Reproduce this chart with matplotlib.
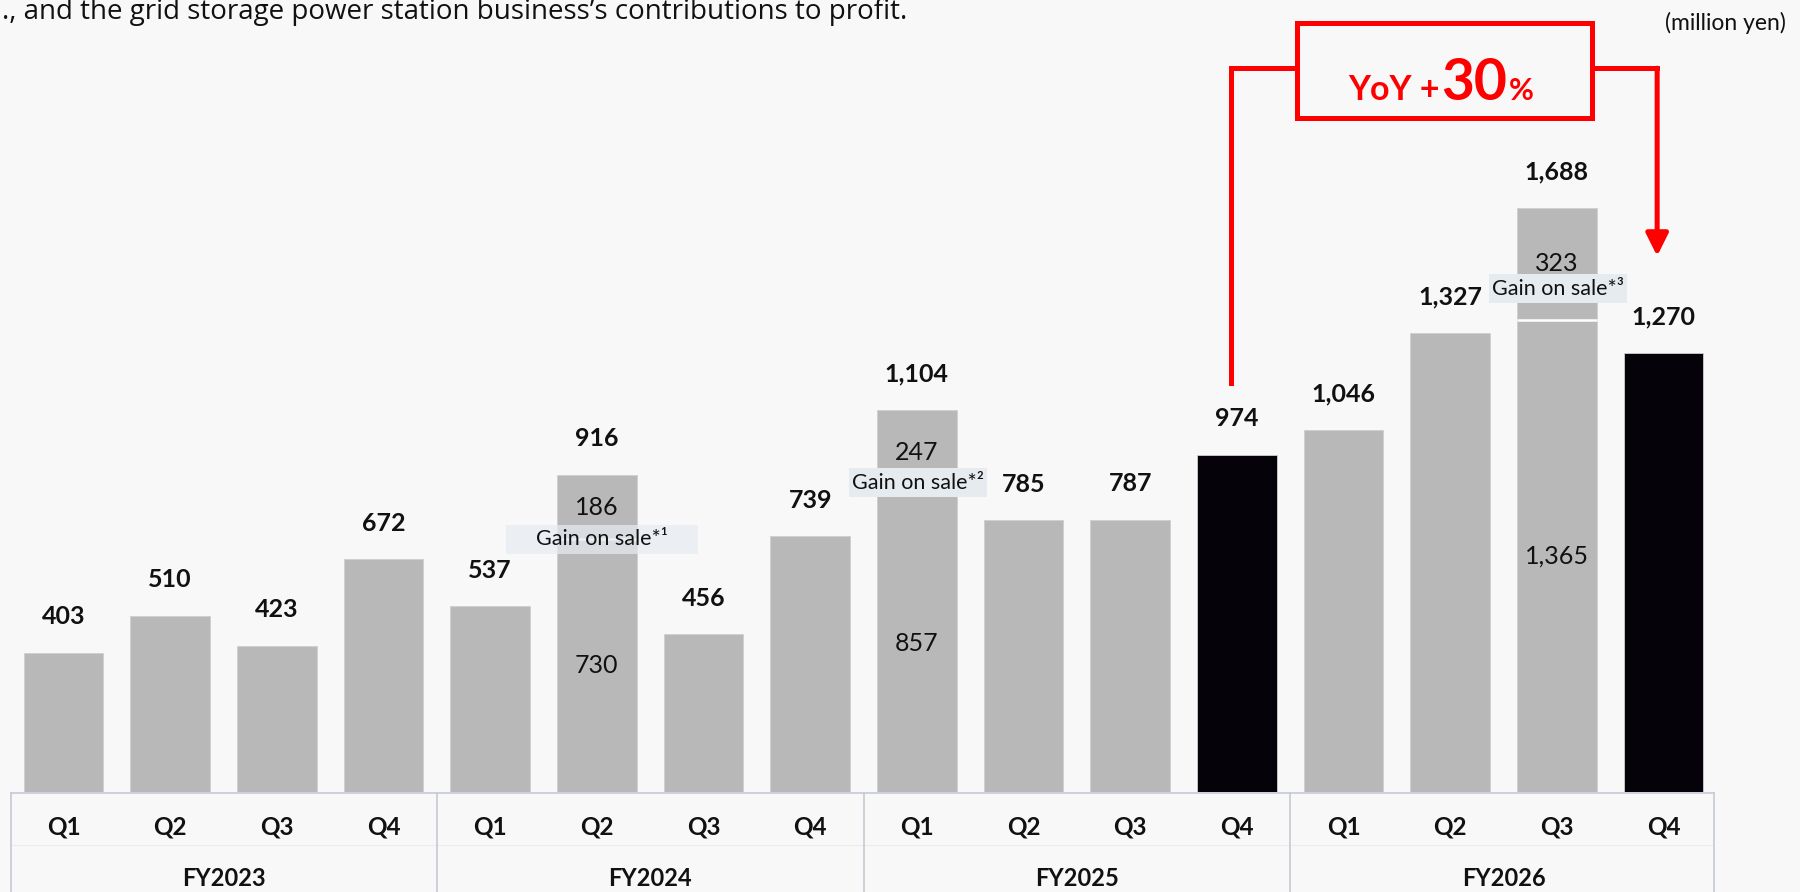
import numpy as np
import matplotlib
matplotlib.use("Agg")
import matplotlib.pyplot as plt
from matplotlib.patches import Rectangle
from matplotlib.transforms import offset_copy

plt.rcParams['font.family'] = ['Lato', 'DejaVu Sans']

# quarterly profit (million yen)
years = ['FY2023', 'FY2024', 'FY2025', 'FY2026']
quarters = ['Q1', 'Q2', 'Q3', 'Q4'] * 4
profit = np.array([403, 510, 423, 672, 537, 916, 456, 739,
                   1104, 785, 787, 974, 1046, 1327, 1688, 1270])
gain_on_sale = np.array([0, 0, 0, 0, 0, 186, 0, 0,
                         247, 0, 0, 0, 0, 0, 323, 0])
gain_notes = {5: '*¹', 8: '*²', 14: '*³'}
highlight = [11, 15]
base = profit - gain_on_sale

BG = '#F8F8F8'
GRAY = '#B8B8B8'
DARK = '#050309'
RED = '#FF0000'

W, H, DPI = 1800, 892, 100
fig = plt.figure(figsize=(W / DPI, H / DPI), dpi=DPI, facecolor=BG)

x = np.arange(len(profit))
xlim = (-0.492, 15.473)
ax_left, ax_w = 11 / W, 1703 / W
ax = fig.add_axes([ax_left, 100 / H, ax_w, 792 / H])
ax.set_facecolor('none')
ax.set_xlim(*xlim)
ax.set_ylim(0, 2289)
ax.axis('off')

bar_w = 0.745
colors = [DARK if i in highlight else GRAY for i in x]
ax.bar(x, profit, width=bar_w, color=colors, edgecolor='#CFCFCF', linewidth=0.6, zorder=2)
# white split line between the base and the gain-on-sale part
has_gain = gain_on_sale > 0
ax.hlines(base[has_gain], x[has_gain] - bar_w / 2, x[has_gain] + bar_w / 2,
          color='white', lw=1.8, zorder=2.5)

# totals above each bar
for i, v in enumerate(profit):
    ax.annotate(f'{v:,}', (i, v), xytext=(0, 26), textcoords='offset points',
                ha='center', va='center', fontsize=18, fontweight='bold',
                color='#111111', zorder=5)

# split values and gain-on-sale tags inside stacked bars
box_style = {5: (1.8, 0, 0.72), 8: (1.3, 37, 1.0), 14: (1.3, 90, 1.0)}
for i in np.where(has_gain)[0]:
    ax.text(i, base[i] / 2, f'{base[i]:,}', ha='center', va='center',
            fontsize=18, color='#111111', zorder=4)
    ax.text(i, base[i] + gain_on_sale[i] / 2, f'{gain_on_sale[i]:,}', ha='center',
            va='center', fontsize=18, color='#111111', zorder=4)
    bw, dy, alpha = box_style[i]
    cx = i + (0.05 if i == 5 else 0.01)
    cy = base[i] + dy
    ax.add_patch(Rectangle((cx - bw / 2, cy - 42), bw, 84, facecolor='#E6EBF0',
                           edgecolor='none', alpha=alpha, zorder=3))
    ax.text(cx, cy, 'Gain on sale' + gain_notes[i], ha='center', va='center',
            fontsize=15.5, color='#111111', zorder=4)

# YoY bracket from FY2025 Q4 to FY2026 Q4
i0, i1 = highlight
xl, xr = i0 - 0.055, i1 - 0.06
y_top = 2092
ax.plot([xl, xl, xr, xr], [profit[i0] + 208, y_top, y_top, y_top], color=RED,
        lw=3.6, solid_joinstyle='miter', solid_capstyle='projecting', zorder=6)
ax.annotate('', xy=(xr, profit[i1] + 279), xytext=(xr, y_top),
            arrowprops=dict(arrowstyle='-|>,head_length=0.9,head_width=0.45',
                            color=RED, lw=3.6, shrinkA=0, shrinkB=0,
                            mutation_scale=15), zorder=6)
bx0, bx1 = xl + 0.62, xr - 0.61
ax.add_patch(Rectangle((bx0, y_top - 144), bx1 - bx0, 274, facecolor=BG,
                       edgecolor=RED, lw=3.6, joinstyle='miter', zorder=7))

yoy = round((profit[i1] / profit[i0] - 1) * 100)
bcx = (bx0 + bx1) / 2 + 0.277
yb = 2000
t30 = ax.text(bcx, yb, f'{yoy}', ha='center', va='baseline', fontsize=41,
              fontweight='bold', color=RED, zorder=8)
renderer = fig.canvas.get_renderer()
w30 = t30.get_window_extent(renderer).width * 72 / DPI
ax.text(bcx, yb, 'YoY +', ha='right', va='baseline', fontsize=24.5, fontweight='bold',
        color=RED, zorder=8,
        transform=offset_copy(ax.transData, fig=fig, x=-w30 / 2 - 1, units='points'))
ax.text(bcx, yb, '%', ha='left', va='baseline', fontsize=22, fontweight='bold',
        color=RED, zorder=8,
        transform=offset_copy(ax.transData, fig=fig, x=w30 / 2 + 1, units='points'))

# category table under the bars
tab = fig.add_axes([ax_left, 0, ax_w, 100 / H])
tab.set_facecolor('none')
tab.set_xlim(*xlim)
tab.set_ylim(0, 100)
tab.axis('off')
edge = '#C5CAD3'
tab.plot(xlim, [99, 99], color=edge, lw=1.2, clip_on=False)
tab.plot(xlim, [47, 47], color='#ECECEC', lw=0.8)
for xv in [xlim[0], 3.5, 7.5, 11.5, xlim[1]]:
    tab.plot([xv, xv], [0, 99], color=edge, lw=1.2, clip_on=False)
for i, q in enumerate(quarters):
    tab.text(i, 65, q, ha='center', va='center', fontsize=17.5, fontweight='bold',
             color='#111111')
for k, fy in enumerate(years):
    tab.text(4 * k + 1.5, 14, fy, ha='center', va='center', fontsize=17,
             fontweight='bold', color='#111111')

fig.text(2 / W, 1 - 19 / H,
         '., and the grid storage power station business\u2019s contributions to profit.',
         ha='left', va='baseline', fontsize=20, color='#111111',
         family=['Open Sans', 'DejaVu Sans'])
fig.text(1786 / W, 1 - 23 / H, '(million yen)', ha='right', va='center',
         fontsize=16.5, color='#111111')

fig.savefig('out.png', dpi=DPI, facecolor=BG)
